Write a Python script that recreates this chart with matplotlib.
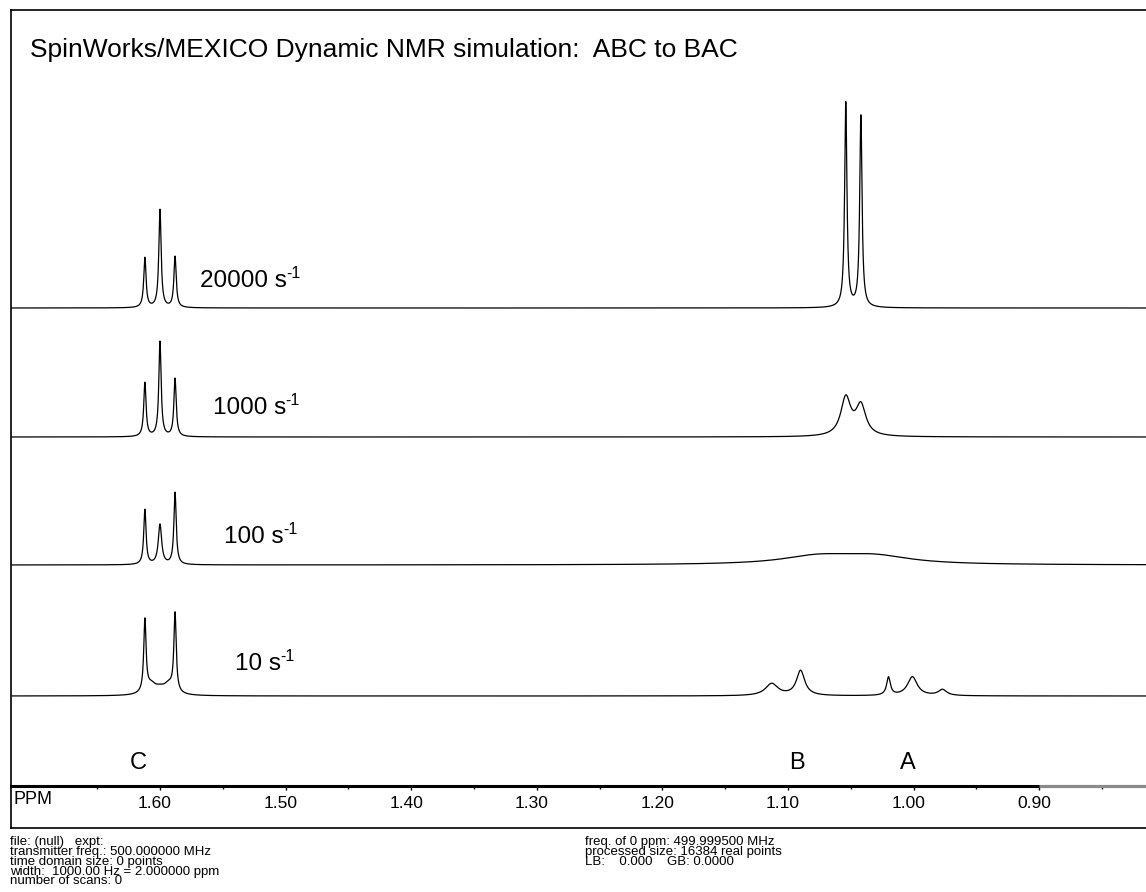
# SpinWorks/MEXICO dynamic NMR simulation, stacked spectra
import numpy as np
import matplotlib.pyplot as plt
from matplotlib.transforms import ScaledTranslation

plt.rcParams['font.family'] = ['Liberation Sans', 'DejaVu Sans']

# exchange rates (s-1), top to bottom
rates = ['20000', '1000', '100', '10']

# peak lists: position (ppm), height (px), half width (ppm)
ppm_20000 = [1.612, 1.600, 1.588, 1.054, 1.042]
h_20000 = [50, 98, 51, 205, 192]
w_20000 = [0.0011, 0.0011, 0.0011, 0.0011, 0.0011]

ppm_1000 = [1.612, 1.600, 1.588, 1.054, 1.042]
h_1000 = [54, 95, 58, 38, 30]
w_1000 = [0.0011, 0.0011, 0.0011, 0.0048, 0.0048]

ppm_100 = [1.612, 1.600, 1.588, 1.076, 1.031]
h_100 = [55, 40, 72, 8, 8]
w_100 = [0.0011, 0.0016, 0.0011, 0.035, 0.035]

ppm_10 = [1.612, 1.588, 1.607, 1.600, 1.593, 1.113, 1.090, 1.020, 1.001, 0.977]
h_10 = [72, 78, 10, 4, 10, 12, 25, 18, 19, 6]
w_10 = [0.0011, 0.0011, 0.005, 0.004, 0.005, 0.006, 0.004, 0.0018, 0.0047, 0.004]

spectra = [(ppm_20000, h_20000, w_20000), (ppm_1000, h_1000, w_1000),
           (ppm_100, h_100, w_100), (ppm_10, h_10, w_10)]

site_labels = ['C', 'B', 'A']
site_ppm = [1.617, 1.093, 1.005]

tick_vals = [1.60, 1.50, 1.40, 1.30, 1.20, 1.10, 1.00, 0.90]

footer_left = ("file: (null)   expt:\n"
               "transmitter freq.: 500.000000 MHz\n"
               "time domain size: 0 points\n"
               "width:  1000.00 Hz = 2.000000 ppm\n"
               "number of scans: 0")
footer_right = ("freq. of 0 ppm: 499.999500 MHz\n"
                "processed size: 16384 real points\n"
                "LB:    0.000    GB: 0.0000")

# layout in pixels
W, H = 1146, 892
fig = plt.figure(figsize=(W / 100, H / 100), dpi=100)


def box(l, t, r, b):
    return [l / W, 1 - b / H, (r - l) / W, (b - t) / H]


ax = fig.add_axes(box(11, 10, 1146, 786))
band = fig.add_axes(box(11, 786, 1146, 828))

x_left, x_right = 1.7186, 0.8150
ax.set_xlim(x_left, x_right)
ax.set_ylim(0, 776)  # pixel units from the thick axis line up

baselines = [308, 437, 565, 696]   # y pixel of each trace
label_x = [200, 213, 224, 235]
label_dy = [27, 29, 28, 32]

x = np.linspace(x_left, x_right, 8000)
for (pos, hts, wid), base, rate, lx, dy in zip(spectra, baselines, rates,
                                                label_x, label_dy):
    y = np.zeros_like(x)
    for p, h, w in zip(pos, hts, wid):
        y += h / (1 + ((x - p) / w) ** 2)
    ax.plot(x, y + (786 - base), color='black', lw=0.9)
    t = ax.text(lx / W, 1 - (base - dy) / H, rate + ' s', transform=fig.transFigure,
                fontsize=17.5, va='center', ha='left')
    ax.annotate('-1', xy=(1, 0.5), xycoords=t, xytext=(-0.5, 0),
                textcoords='offset points', fontsize=11.5, ha='left', va='bottom',
                annotation_clip=False)

for lab, p in zip(site_labels, site_ppm):
    ax.text(p, 786 - 763, lab, fontsize=17, ha='center', va='center')

fig.text(30 / W, 1 - 50 / H, 'SpinWorks/MEXICO Dynamic NMR simulation:  ABC to BAC',
         fontsize=19, va='center', ha='left')

# frame
ax.spines['right'].set_visible(False)
ax.spines['bottom'].set_linewidth(2.2)
ax.spines['top'].set_linewidth(1.2)
ax.spines['left'].set_linewidth(1.2)
# the axis line turns grey past 0.90 ppm
ax.plot([0.90, x_right], [0, 0], color='#8a8a8a', lw=2.2, clip_on=False,
        solid_capstyle='butt', zorder=3)
ax.set_yticks([])
ax.set_xticks(tick_vals)
ax.set_xticklabels(['%.2f' % v for v in tick_vals])
ax.set_xticks(np.arange(1.65, 0.84, -0.10), minor=True)
ax.tick_params(axis='x', which='major', direction='out', length=3, width=1,
               labelsize=12.5, pad=4)
ax.tick_params(axis='x', which='minor', direction='out', length=2, width=1)
shift = ScaledTranslation(-5 / 100, 0, fig.dpi_scale_trans)
for t in ax.get_xticklabels():
    t.set_transform(t.get_transform() + shift)

band.set_xticks([])
band.set_yticks([])
band.patch.set_alpha(0)
for s in ['top', 'right']:
    band.spines[s].set_visible(False)
band.spines['left'].set_linewidth(1.2)
band.spines['bottom'].set_linewidth(1.2)
band.text(0.002, 0.67, 'PPM', transform=band.transAxes, fontsize=13,
          ha='left', va='center')

fig.text(10 / W, 1 - 836 / H, footer_left, fontsize=9.5, va='top', ha='left',
         linespacing=0.76)
fig.text(585 / W, 1 - 836 / H, footer_right, fontsize=9.5, va='top', ha='left',
         linespacing=0.76)

fig.savefig('out.png', dpi=100)
